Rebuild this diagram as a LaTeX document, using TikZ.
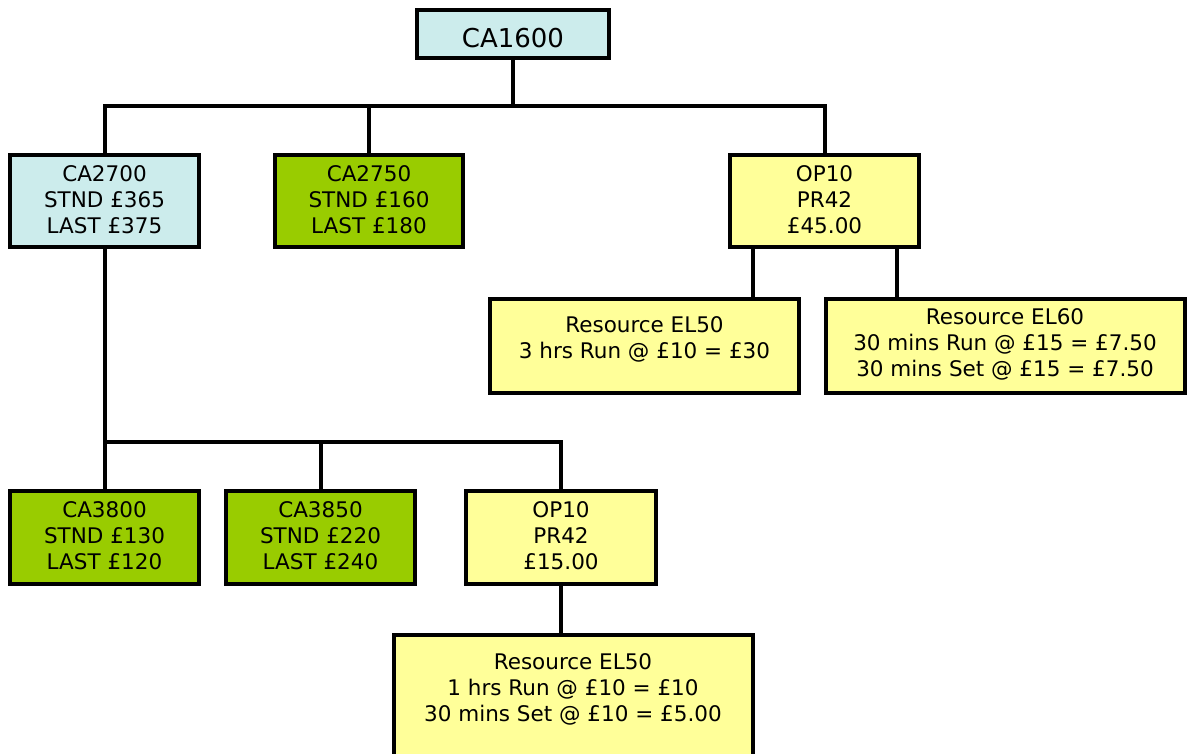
\documentclass[tikz,border=0pt]{standalone}
\usepackage{fontspec}
\setmainfont{DejaVu Sans}
\usetikzlibrary{positioning}
\definecolor{cblue}{HTML}{CCECEC}
\definecolor{cgreen}{HTML}{99CC00}
\definecolor{cyellow}{HTML}{FFFF99}
\begin{document}
\begin{tikzpicture}[x=1pt,y=-1pt,
  box/.style={draw=black, line width=4pt, rectangle, inner sep=0pt},
  txt/.style={align=center, inner sep=0pt, font=\fontsize{21.5pt}{26pt}\selectfont},
  wire/.style={line width=4pt, draw=black},
]
\useasboundingbox (0,0) rectangle (1191,753);
\clip (0,0) rectangle (1191,753);

% boxes
\node[box, fill=cblue, minimum width=192pt, minimum height=48pt, text height=26pt, text depth=0pt,
      font=\fontsize{26pt}{30pt}\selectfont] (root) at (513,34) {CA1600};

\node[box, fill=cblue,   minimum width=189pt, minimum height=92pt] (ca2700) at (104.5,201) {};
\node[box, fill=cgreen,  minimum width=188pt, minimum height=92pt] (ca2750) at (369,201) {};
\node[box, fill=cyellow, minimum width=189pt, minimum height=92pt] (op1) at (824.5,201) {};
\node[box, fill=cyellow, minimum width=309pt, minimum height=94pt] (res1) at (644.5,345.5) {};
\node[box, fill=cyellow, minimum width=359pt, minimum height=94pt] (res2) at (1005,346) {};
\node[box, fill=cgreen,  minimum width=189pt, minimum height=93pt] (ca3800) at (104.5,537.5) {};
\node[box, fill=cgreen,  minimum width=189pt, minimum height=93pt] (ca3850) at (320.5,537.5) {};
\node[box, fill=cyellow, minimum width=190pt, minimum height=93pt] (op2) at (561,537.5) {};
\node[box, fill=cyellow, minimum width=359pt, minimum height=124pt] (res3) at (573,697) {};

% texts
\node[txt, below=12pt of ca2700.north] (t2700) {CA2700\\STND £365\\LAST £375};
\node[txt, below=12pt of ca2750.north] (t2750) {CA2750\\STND £160\\LAST £180};
\node[txt, below=12pt of op1.north] (top1) {OP10\\PR42\\£45.00};
\node[txt, below=20pt of res1.north] (tres1) {Resource EL50\\3 hrs Run @ £10 = £30};
\node[txt, below=11.5pt of res2.north] (tres2) {Resource EL60\\30 mins Run @ £15 = £7.50\\30 mins Set @ £15 = £7.50};
\node[txt, below=12pt of ca3800.north] (t3800) {CA3800\\STND £130\\LAST £120};
\node[txt, below=12pt of ca3850.north] (t3850) {CA3850\\STND £220\\LAST £240};
\node[txt, below=12pt of op2.north] (top2) {OP10\\PR42\\£15.00};
\node[txt, below=20pt of res3.north] (tres3) {Resource EL50\\1 hrs Run @ £10 = £10\\30 mins Set @ £10 = £5.00};

% bus coordinates
\coordinate (bus1) at (513,105.5);
\coordinate (bus2) at (104.5,441.5);

% connectors
\draw[wire] (root.south) -- (root.south |- bus1);
\draw[wire] (ca2700.north) |- (op1.north |- bus1) -- (op1.north);
\draw[wire] (ca2750.north) -- (ca2750.north |- bus1);
\draw[wire] ([xshift=-71.5pt]op1.south) -- ([xshift=-71.5pt]op1.south |- res1.north);
\draw[wire] ([xshift=72pt]op1.south) -- ([xshift=72pt]op1.south |- res2.north);
\draw[wire] (ca2700.south) -- (ca3800.north);
\draw[wire] (ca2700.south |- bus2) -| (op2.north);
\draw[wire] (ca3850.north) -- (ca3850.north |- bus2);
\draw[wire] (op2.south) -- (op2.south |- res3.north);
\end{tikzpicture}
\end{document}
